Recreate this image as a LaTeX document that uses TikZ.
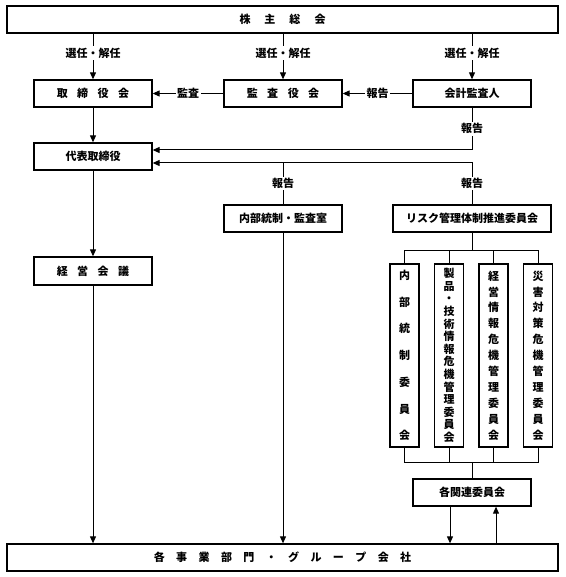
\documentclass[tikz,border=0pt]{standalone}
\usepackage{fontspec}
\setmainfont{Noto Sans CJK JP}
\usetikzlibrary{arrows.meta}
\newcommand{\gsp}[1]{\hspace{#1pt}}
\begin{document}
\begin{tikzpicture}[x=1pt,y=-1pt,
  box/.style={draw,line width=1.3pt,inner sep=0pt,align=center,font=\fontsize{11}{13}\selectfont\bfseries},
  vbox/.style={box,minimum width=29pt,minimum height=183pt,text width=20pt},
  conn/.style={line width=1pt},
  arr/.style={conn,-{Triangle[length=7pt,width=6pt]}},
  lab/.style={fill=white,inner sep=1.5pt,font=\fontsize{11}{13}\selectfont\bfseries}]
\useasboundingbox (0,0) rectangle (565,577);

% boxes
\node[box,minimum width=551pt,minimum height=27pt] (top) at (282.5,19.5) {株\gsp{14}主\gsp{14}総\gsp{14}会};
\node[box,minimum width=118pt,minimum height=27pt] (tori) at (93,93.5) {取\gsp{9.5}締\gsp{9.5}役\gsp{9.5}会};
\node[box,minimum width=118pt,minimum height=27pt] (kansa) at (283,93.5) {監\gsp{9.5}査\gsp{9.5}役\gsp{9.5}会};
\node[box,minimum width=118pt,minimum height=27pt] (kaikei) at (472,93.5) {会計監査人};
\node[box,minimum width=118pt,minimum height=27pt] (daihyo) at (93,156.5) {代表取締役};
\node[box,minimum width=118pt,minimum height=27pt] (naibu) at (283,218.5) {内部統制・監査室};
\node[box,minimum width=158pt,minimum height=27pt] (risk) at (472,218.5) {リスク管理体制推進委員会};
\node[box,minimum width=118pt,minimum height=28pt] (keiei) at (93,271) {経\gsp{9.5}営\gsp{9.5}会\gsp{9.5}議};
\node[vbox,font=\fontsize{11}{26.7}\selectfont\bfseries] (v1) at (404.5,355.5) {内\\部\\統\\制\\委\\員\\会};
\node[vbox,font=\fontsize{11}{12.6}\selectfont\bfseries] (v2) at (449,355.5) {製\\品\\・\\技\\術\\情\\報\\危\\機\\管\\理\\委\\員\\会};
\node[vbox,font=\fontsize{11}{15.9}\selectfont\bfseries] (v3) at (493.5,355.5) {経\\営\\情\\報\\危\\機\\管\\理\\委\\員\\会};
\node[vbox,font=\fontsize{11}{15.9}\selectfont\bfseries] (v4) at (538,355.5) {災\\害\\対\\策\\危\\機\\管\\理\\委\\員\\会};
\node[box,minimum width=118pt,minimum height=27pt] (kanren) at (472,492.5) {各関連委員会};
\node[box,minimum width=551pt,minimum height=27pt] (bottom) at (282.5,557.5) {各\gsp{11.4}事\gsp{11.4}業\gsp{11.4}部\gsp{11.4}門\gsp{11.4}・\gsp{11.4}グ\gsp{11.4}ル\gsp{11.4}ー\gsp{11.4}プ\gsp{11.4}会\gsp{11.4}社};

% helper coordinates
\coordinate (j1) at (472,150);
\coordinate (j2) at (472,163);
\coordinate (t1) at (472,250);
\coordinate (t2) at (472,462);
\coordinate (a1) at (450,0);
\coordinate (a2) at (496,0);

% election arrows
\draw[arr] (top.south -| tori) -- node[lab,pos=0.42]{選任・解任} (tori.north);
\draw[arr] (top.south -| kansa) -- node[lab,pos=0.42]{選任・解任} (kansa.north);
\draw[arr] (top.south -| kaikei) -- node[lab,pos=0.42]{選任・解任} (kaikei.north);

% horizontal audit / report
\draw[arr] (kansa.west) -- node[lab]{監査} (tori.east);
\draw[arr] (kaikei.west) -- node[lab]{報告} (kansa.east);

% reports to daihyo
\draw[arr] (kaikei.south) -- node[lab]{報告} (j1) -- (daihyo.east |- j1);
\draw[arr] (risk.north) -- node[lab]{報告} (j2) -- (daihyo.east |- j2);
\draw[conn] (naibu.north) -- node[lab]{報告} (naibu.north |- j2);

% main vertical chain
\draw[arr] (tori.south) -- (daihyo.north);
\draw[arr] (daihyo.south) -- (keiei.north);
\draw[arr] (keiei.south) -- (bottom.north -| keiei);
\draw[arr] (naibu.south) -- (bottom.north -| naibu);

% risk tree
\draw[conn] (risk.south) -- (t1);
\draw[conn] (v1.north) -- (v1.north |- t1) -- (v4.north |- t1) -- (v4.north);
\draw[conn] (v2.north) -- (v2.north |- t1);
\draw[conn] (v3.north) -- (v3.north |- t1);
\draw[conn] (v1.south) -- (v1.south |- t2) -- (v4.south |- t2) -- (v4.south);
\draw[conn] (v2.south) -- (v2.south |- t2);
\draw[conn] (v3.south) -- (v3.south |- t2);
\draw[conn] (t2) -- (kanren.north);

% kanren <-> bottom
\draw[arr] (kanren.south -| a1) -- (bottom.north -| a1);
\draw[arr] (bottom.north -| a2) -- (kanren.south -| a2);
\end{tikzpicture}
\end{document}
